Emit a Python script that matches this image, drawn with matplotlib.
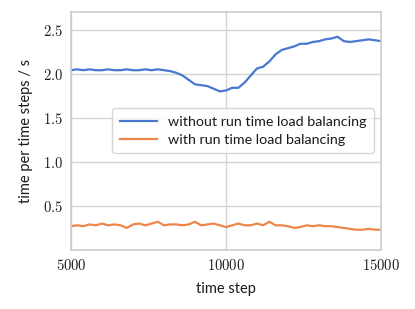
import matplotlib
matplotlib.use("Agg")
import matplotlib.pyplot as plt
from matplotlib.ticker import FuncFormatter

steps = list(range(5000, 15001, 200))
without_lb = [2.04, 2.05, 2.04, 2.05, 2.04, 2.04, 2.05, 2.04, 2.04, 2.05,
              2.04, 2.04, 2.05, 2.04, 2.05, 2.04, 2.03, 2.01, 1.98, 1.93,
              1.88, 1.87, 1.86, 1.83, 1.80, 1.81, 1.84, 1.84, 1.90, 1.98,
              2.06, 2.08, 2.14, 2.22, 2.27, 2.29, 2.31, 2.34, 2.34, 2.36,
              2.37, 2.39, 2.40, 2.42, 2.37, 2.36, 2.37, 2.38, 2.39, 2.38, 2.37]
with_lb = [0.27, 0.28, 0.27, 0.29, 0.28, 0.30, 0.28, 0.29, 0.28, 0.25,
           0.29, 0.30, 0.28, 0.30, 0.32, 0.28, 0.29, 0.29, 0.28, 0.29,
           0.32, 0.28, 0.29, 0.30, 0.28, 0.26, 0.28, 0.30, 0.28, 0.28,
           0.30, 0.28, 0.32, 0.28, 0.28, 0.27, 0.25, 0.26, 0.28, 0.27,
           0.28, 0.27, 0.27, 0.26, 0.25, 0.24, 0.23, 0.23, 0.24, 0.23, 0.23]
xticks = [5000, 10000, 15000]
yticks = [0.5, 1.0, 1.5, 2.0, 2.5]

plt.rcParams['mathtext.fontset'] = 'cm'
fig = plt.figure(figsize=(4.15, 3.09), dpi=100)
ax = fig.add_axes([0.171, 0.191, 0.747, 0.770])

ax.plot(steps, without_lb, color='#4878d0', lw=1.6, label='without run time load balancing')
ax.plot(steps, with_lb, color='#ee854a', lw=1.6, label='with run time load balancing')

ax.set_xlim(5000, 15000)
ax.set_ylim(0, 2.7)
ax.set_xticks(xticks)
ax.set_yticks(yticks)
ax.xaxis.set_major_formatter(FuncFormatter(lambda v, p: r'$\mathbf{%d}$' % v))
ax.yaxis.set_major_formatter(FuncFormatter(lambda v, p: r'$\mathbf{%.1f}$' % v))
ax.tick_params(axis='both', length=0, labelsize=10.5, pad=6, colors='#1a1a1a')
ax.grid(True, color='#d4d4d4', lw=1.0)
ax.set_axisbelow(True)
for s in ax.spines.values():
    s.set_color('#cccccc')
    s.set_linewidth(1.2)

ax.set_xlabel('time step', fontsize=10.5, family='Lato', color='#1a1a1a', labelpad=6)
ax.set_ylabel('time per time steps / s', fontsize=10.5, family='Lato', color='#1a1a1a', labelpad=7)

leg = ax.legend(loc='upper right', bbox_to_anchor=(1.0, 0.625),
                prop={'family': 'Lato', 'size': 10.3}, frameon=True, handlelength=2.6,
                borderpad=0.5, labelspacing=0.45)
leg.get_frame().set_edgecolor('#cccccc')
for t in leg.get_texts():
    t.set_color('#1a1a1a')

fig.savefig('out.png', dpi=100)
